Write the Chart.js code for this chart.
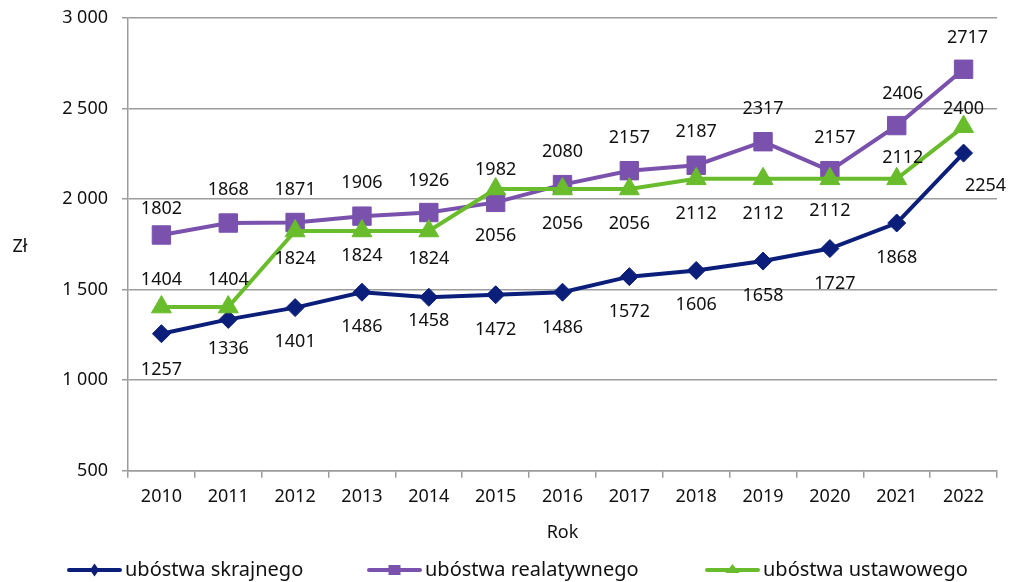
<!DOCTYPE html>
<html>
<head>
<meta charset="utf-8">
<script src="https://cdn.jsdelivr.net/npm/chart.js@4.4.1/dist/chart.umd.min.js"></script>
<style>
html,body{margin:0;padding:0;background:#fff;}
#wrap{width:1011px;height:582px;position:relative;}
</style>
</head>
<body>
<div id="wrap"><canvas id="c"></canvas></div>
<script>
// ---- data ----
const categories = ['2010','2011','2012','2013','2014','2015','2016','2017','2018','2019','2020','2021','2022'];
const skrajnego = [1257,1336,1401,1486,1458,1472,1486,1572,1606,1658,1727,1868,2254];
const realatywnego = [1802,1868,1871,1906,1926,1982,2080,2157,2187,2317,2157,2406,2717];
const ustawowego = [1404,1404,1824,1824,1824,2056,2056,2056,2112,2112,2112,2112,2400];
const seriesNames = ['ubóstwa skrajnego','ubóstwa realatywnego','ubóstwa ustawowego'];
const yTickValues = [500,1000,1500,2000,2500,3000];
const yAxisTitle = 'Zł';
const xAxisTitle = 'Rok';

// ---- styles ----
const colors = ['#0b1f7a','#7a52ae','#69bc2b'];
const pointStyles = ['rectRot','rect','triangle'];
const pointRadii = [9,13,11.5];
// value label offsets relative to each point (style only)
const labelDy = [
  [36,29,34,35,24,35,36,35,34,35,35,35,33],
  [-26,-33,-33,-33,-32,-33,-33,-33,-33,-33,-33,-32,-31],
  [-27,-27,28,25,28,47,35,35,35,35,32,-21,-18]
];
const labelDx = [
  [0,0,0,0,0,0,0,0,0,0,5,0,22],
  [0,0,0,0,0,0,0,0,0,0,5,6,4],
  [0,0,0,0,0,0,0,0,0,0,0,6,0]
];
const FONT = '"Noto Sans", sans-serif';
const TEXT = '#111111';
const GRID = '#9c9c9c';

Chart.defaults.font.family = FONT;
Chart.defaults.font.size = 18;
Chart.defaults.color = TEXT;

function fmt(v){ return String(v).replace(/\B(?=(\d{3})+(?!\d))/g,' '); }

const valueLabels = {
  id:'valueLabels',
  afterDatasetsDraw(chart){
    const ctx = chart.ctx;
    ctx.save();
    ctx.font = '18px ' + FONT;
    ctx.fillStyle = TEXT;
    ctx.textAlign = 'center';
    ctx.textBaseline = 'middle';
    chart.data.datasets.forEach((ds,i)=>{
      const meta = chart.getDatasetMeta(i);
      meta.data.forEach((pt,j)=>{
        ctx.fillText(String(ds.data[j]), pt.x + labelDx[i][j], pt.y + labelDy[i][j]);
      });
    });
    ctx.restore();
  }
};

const yTitle = {
  id:'yTitle',
  afterDraw(chart){
    const ctx = chart.ctx;
    const a = chart.chartArea;
    ctx.save();
    ctx.font = '18px ' + FONT;
    ctx.fillStyle = TEXT;
    ctx.textAlign = 'center';
    ctx.textBaseline = 'middle';
    ctx.fillText(yAxisTitle, 20, (a.top + a.bottom)/2 + 2);
    ctx.restore();
  }
};

function drawMarker(ctx, style, x, y, s){
  ctx.beginPath();
  if(style==='rectRot'){
    ctx.moveTo(x, y-s*1.3); ctx.lineTo(x+s*0.9, y); ctx.lineTo(x, y+s*1.3); ctx.lineTo(x-s*0.9, y);
  } else if(style==='rect'){
    ctx.rect(x-s*1.2, y-s, s*2.4, s*2);
  } else {
    ctx.moveTo(x, y-s*1.2); ctx.lineTo(x+s*1.4, y+s*0.6); ctx.lineTo(x-s*1.4, y+s*0.6);
  }
  ctx.closePath();
  ctx.fill();
}

const bottomLegend = {
  id:'bottomLegend',
  afterDraw(chart){
    const ctx = chart.ctx;
    const starts = [67,367,705];
    const y = 570;
    ctx.save();
    ctx.font = '20px ' + FONT;
    ctx.textBaseline = 'middle';
    ctx.textAlign = 'left';
    seriesNames.forEach((name,i)=>{
      const x0 = starts[i], x1 = x0 + 55;
      ctx.strokeStyle = colors[i];
      ctx.fillStyle = colors[i];
      ctx.lineWidth = 4;
      ctx.lineCap = 'round';
      ctx.beginPath(); ctx.moveTo(x0+2, y); ctx.lineTo(x1-2, y); ctx.stroke();
      drawMarker(ctx, pointStyles[i], (x0+x1)/2, y, 5);
      ctx.fillStyle = TEXT;
      ctx.fillText(name, x1 + 3, y);
    });
    ctx.restore();
  }
};

const seriesData = [skrajnego, realatywnego, ustawowego];
const orders = [2,1,0];

new Chart(document.getElementById('c'), {
  type:'line',
  data:{
    labels: categories,
    datasets: seriesData.map((d,i)=>({
      label: seriesNames[i],
      data: d,
      borderColor: colors[i],
      backgroundColor: colors[i],
      borderWidth: 4,
      tension: 0,
      pointStyle: pointStyles[i],
      pointRadius: pointRadii[i],
      pointHoverRadius: pointRadii[i],
      pointBackgroundColor: colors[i],
      pointBorderColor: colors[i],
      pointBorderWidth: 1,
      order: orders[i],
      fill: false
    }))
  },
  options:{
    responsive:true,
    maintainAspectRatio:false,
    animation:false,
    layout:{ padding:{ top:18, right:11, bottom:38, left:0 } },
    plugins:{
      legend:{ display:false },
      tooltip:{ enabled:false }
    },
    scales:{
      x:{
        offset:true,
        grid:{ display:true, drawOnChartArea:false, drawTicks:true, tickLength:7, color:GRID, lineWidth:1.5, offset:true },
        border:{ display:true, color:GRID, width:1.5 },
        ticks:{ padding:8, color:TEXT, maxRotation:0, autoSkip:false, font:{size:18} },
        title:{ display:true, text:xAxisTitle, color:TEXT, font:{size:18}, padding:{top:7,bottom:0} }
      },
      y:{
        min:500, max:3000,
        afterBuildTicks(s){ s.ticks = yTickValues.map(v=>({value:v})); },
        afterFit(s){ s.width = 128; s.paddingTop = 0; s.paddingBottom = 0; },
        grid:{ color:GRID, lineWidth:1.5, tickLength:6, drawTicks:true },
        border:{ display:true, color:GRID, width:1.5 },
        ticks:{ padding:14, color:TEXT, font:{size:18}, callback:(v)=>fmt(v) }
      }
    }
  },
  plugins:[valueLabels, yTitle, bottomLegend]
});
</script>
</body>
</html>
